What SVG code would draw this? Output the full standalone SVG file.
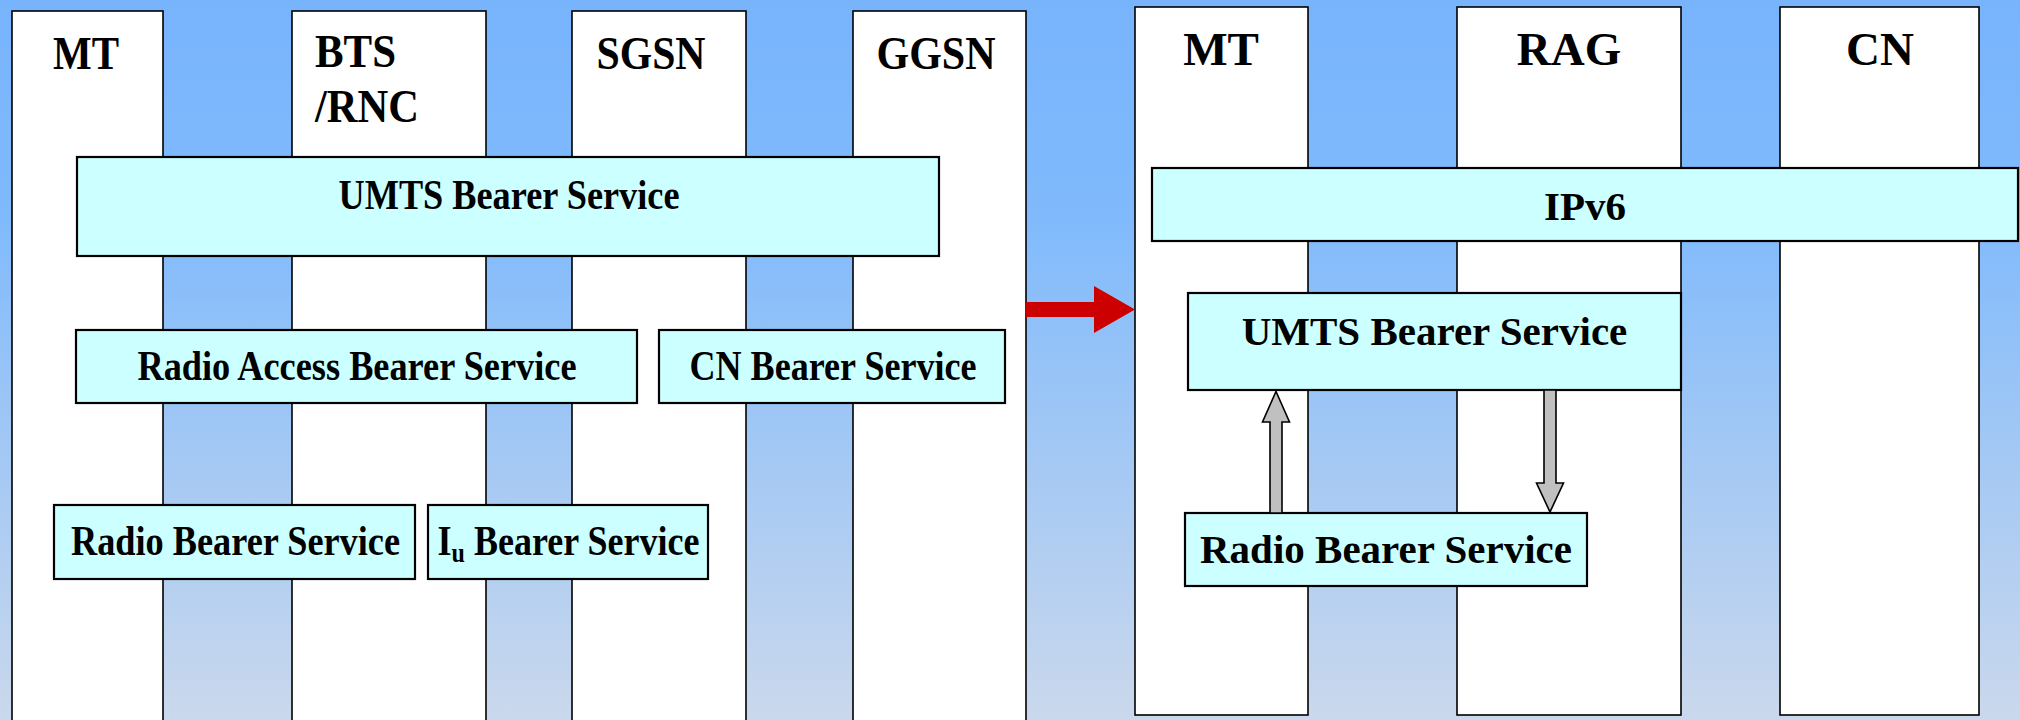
<svg xmlns="http://www.w3.org/2000/svg" width="2020" height="720" viewBox="0 0 2020 720">
  <defs>
    <linearGradient id="sky" x1="0" y1="0" x2="0" y2="1">
      <stop offset="0" stop-color="#78b4fc"/>
      <stop offset="0.3" stop-color="#80bafc"/>
      <stop offset="1" stop-color="#cad8ec"/>
    </linearGradient>
    <style>
      .col { fill: #ffffff; stroke: #000000; stroke-width: 1.6; }
      .box { fill: #ccffff; stroke: #000000; stroke-width: 2.2; }
      .t { font-family: "Liberation Serif", "Times New Roman", serif; font-weight: bold; fill: #000000; }
      .head { font-size: 46px; }
      .lbl { font-size: 42px; }
      .rhead { font-size: 47px; }
      .rlbl { font-size: 41px; }
      .mid { text-anchor: middle; }
      .gray { fill: #c0c0c0; stroke: #000000; stroke-width: 1.6; stroke-linejoin: miter; }
      .red { fill: #cc0000; }
    </style>
  </defs>

  <!-- background -->
  <rect x="0" y="0" width="2020" height="720" fill="url(#sky)"/>

  <!-- left stack: network element columns -->
  <g id="col-mt-left">
    <rect class="col" x="12" y="11" width="151" height="730"/>
    <text class="t head mid" x="86" y="69" textLength="66" lengthAdjust="spacingAndGlyphs">MT</text>
  </g>
  <g id="col-bts-rnc">
    <rect class="col" x="292" y="11" width="194" height="730"/>
    <text class="t head" x="315" y="67" textLength="81" lengthAdjust="spacingAndGlyphs">BTS</text>
    <text class="t head" x="315" y="122" textLength="104" lengthAdjust="spacingAndGlyphs">/RNC</text>
  </g>
  <g id="col-sgsn">
    <rect class="col" x="572" y="11" width="174" height="730"/>
    <text class="t head mid" x="651" y="69" textLength="109" lengthAdjust="spacingAndGlyphs">SGSN</text>
  </g>
  <g id="col-ggsn">
    <rect class="col" x="853" y="11" width="173" height="730"/>
    <text class="t head mid" x="936" y="69" textLength="119" lengthAdjust="spacingAndGlyphs">GGSN</text>
  </g>

  <!-- left stack: bearer service layers -->
  <g id="umts-bearer-left">
    <rect class="box" x="77" y="157" width="862" height="99"/>
    <text class="t lbl mid" x="509" y="209" textLength="341" lengthAdjust="spacingAndGlyphs">UMTS Bearer Service</text>
  </g>
  <g id="radio-access-bearer">
    <rect class="box" x="76" y="330" width="561" height="73"/>
    <text class="t lbl mid" x="357" y="380" textLength="439" lengthAdjust="spacingAndGlyphs">Radio Access Bearer Service</text>
  </g>
  <g id="cn-bearer">
    <rect class="box" x="659" y="330" width="346" height="73"/>
    <text class="t lbl mid" x="833" y="380" textLength="287" lengthAdjust="spacingAndGlyphs">CN Bearer Service</text>
  </g>
  <g id="radio-bearer-left">
    <rect class="box" x="54" y="505" width="361" height="74"/>
    <text class="t lbl mid" x="235.5" y="555" textLength="329" lengthAdjust="spacingAndGlyphs">Radio Bearer Service</text>
  </g>
  <g id="iu-bearer">
    <rect class="box" x="428" y="505" width="280" height="74"/>
    <text class="t lbl mid" transform="translate(568.5 555) scale(0.857 1)" x="0" y="0">I<tspan font-size="28" dy="7">u</tspan><tspan dy="-7"> Bearer Service</tspan></text>
  </g>

  <!-- right stack: network element columns -->
  <g id="col-mt-right">
    <rect class="col" x="1135" y="7" width="173" height="708"/>
    <text class="t rhead mid" x="1221" y="65">MT</text>
  </g>
  <g id="col-rag">
    <rect class="col" x="1457" y="7" width="224" height="708"/>
    <text class="t rhead mid" x="1569" y="65" font-size="48">RAG</text>
  </g>
  <g id="col-cn">
    <rect class="col" x="1780" y="7" width="199" height="708"/>
    <text class="t rhead mid" x="1880" y="65" font-size="46">CN</text>
  </g>

  <!-- right stack: layers -->
  <g id="ipv6">
    <rect class="box" x="1152" y="168" width="866" height="73"/>
    <text class="t rlbl mid" x="1585" y="220">IPv6</text>
  </g>
  <g id="umts-bearer-right">
    <rect class="box" x="1188" y="293" width="493" height="97"/>
    <text class="t rlbl mid" x="1434.5" y="345">UMTS Bearer Service</text>
  </g>
  <g id="radio-bearer-right">
    <rect class="box" x="1185" y="513" width="402" height="73"/>
    <text class="t rlbl mid" x="1386" y="563">Radio Bearer Service</text>
  </g>

  <!-- connectors -->
  <g id="connectors">
    <polygon class="red" points="1026,302 1094,302 1094,286 1135,309.5 1094,333 1094,317 1026,317"/>
    <polygon class="gray" points="1270,513 1270,422 1262.5,422 1276,391.5 1289.5,422 1282,422 1282,513"/>
    <polygon class="gray" points="1544,390 1556,390 1556,483 1563.5,483 1550,512 1536.5,483 1544,483"/>
  </g>
</svg>
